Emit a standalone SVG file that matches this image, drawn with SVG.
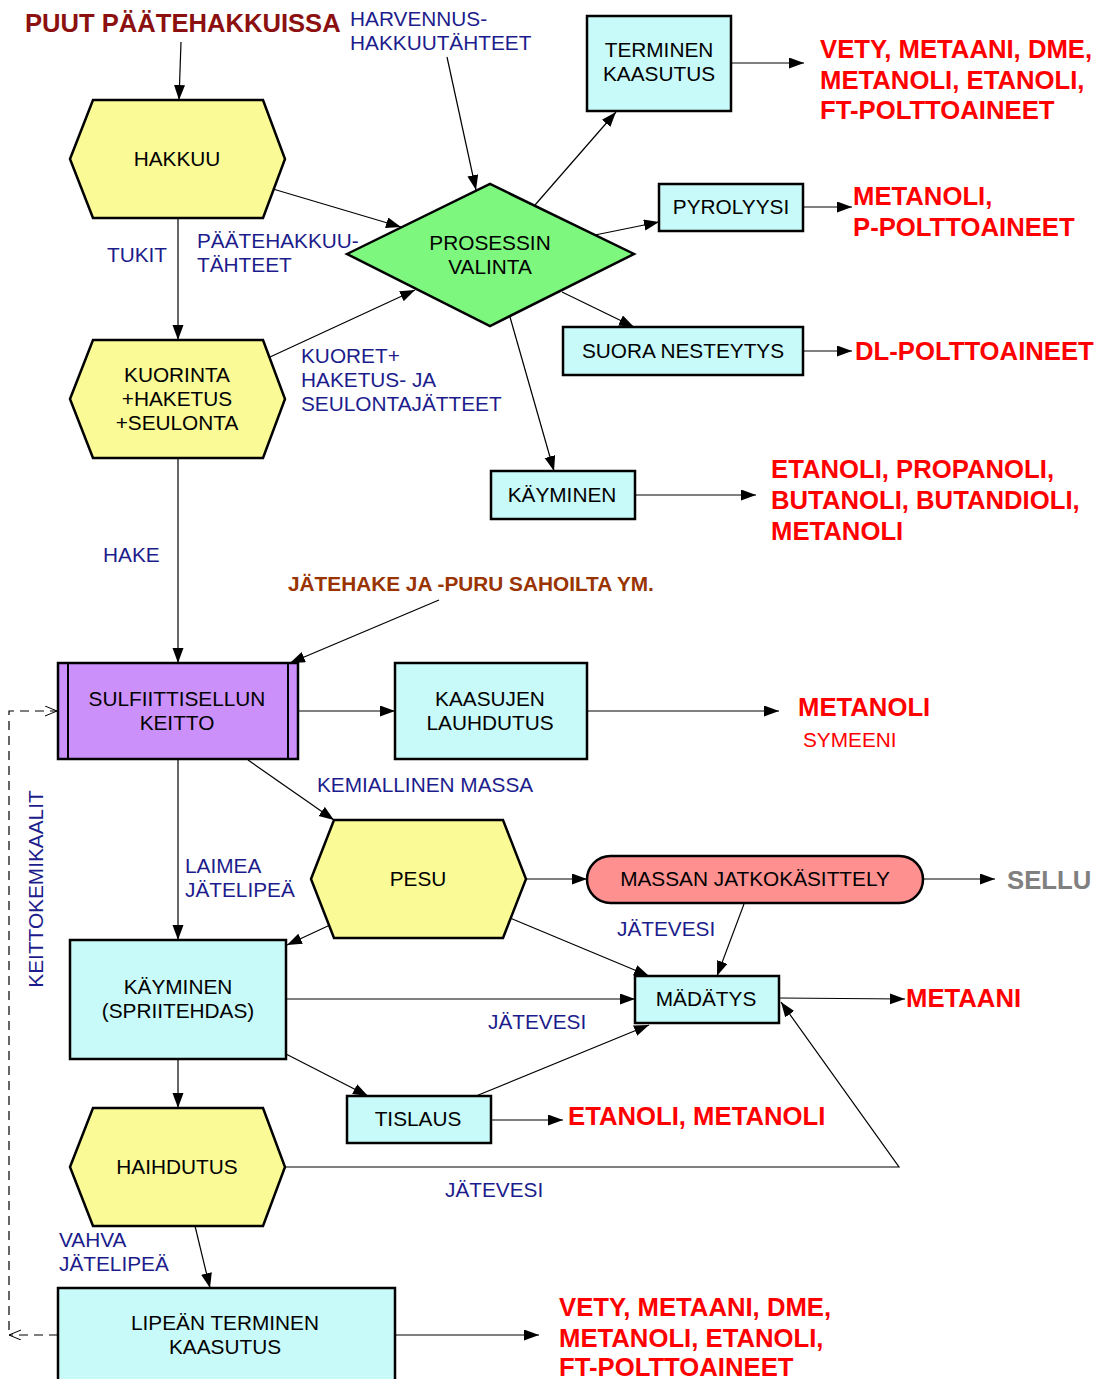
<svg xmlns="http://www.w3.org/2000/svg" width="1109" height="1379" viewBox="0 0 1109 1379">
  <style>
    .node { stroke: #000; stroke-width: 2.5; }
    .hex { fill: #fafa96; }
    .box { fill: #c8fafa; }
    .dia { fill: #7ef77e; }
    .cook { fill: #cc90fa; }
    .pill { fill: #ff9090; }
    .lbl { font-family: "Liberation Sans", Arial, sans-serif; font-size: 20.8px; fill: #000; text-anchor: middle; }
    .flow { font-family: "Liberation Sans", Arial, sans-serif; font-size: 20.8px; fill: #1c1c8c; }
    .prod { font-family: "Liberation Sans", Arial, sans-serif; font-size: 25.7px; font-weight: bold; fill: #ff0000; }
    .conn line, .conn polyline, .conn path { stroke: #000; stroke-width: 1.2; fill: none; }
    .conn .dash { stroke-dasharray: 9 6; }
  </style>
  <defs>
    <marker id="arr" markerUnits="userSpaceOnUse" markerWidth="16" markerHeight="12" refX="15" refY="5.5" orient="auto">
      <path d="M0,0 L15,5.5 L0,11 z" fill="#000"/>
    </marker>
    <marker id="open" markerUnits="userSpaceOnUse" markerWidth="14" markerHeight="12" refX="12" refY="5" orient="auto">
      <path d="M0,0 L12,5 L0,10" fill="none" stroke="#000" stroke-width="1"/>
    </marker>
  </defs>

  <!-- connectors -->
  <g id="connectors" class="conn">
    <line x1="181" y1="42" x2="179" y2="100" marker-end="url(#arr)"/>
    <line x1="273" y1="189" x2="401" y2="227" marker-end="url(#arr)"/>
    <line x1="447" y1="57" x2="476" y2="190" marker-end="url(#arr)"/>
    <line x1="178" y1="218" x2="178" y2="340" marker-end="url(#arr)"/>
    <line x1="270" y1="357" x2="415" y2="290" marker-end="url(#arr)"/>
    <line x1="535" y1="205" x2="616" y2="112" marker-end="url(#arr)"/>
    <line x1="595" y1="235" x2="659" y2="222" marker-end="url(#arr)"/>
    <line x1="562" y1="292" x2="634" y2="327" marker-end="url(#arr)"/>
    <line x1="510" y1="317" x2="554" y2="471" marker-end="url(#arr)"/>
    <line x1="731" y1="63" x2="804" y2="63" marker-end="url(#arr)"/>
    <line x1="803" y1="207" x2="852" y2="207" marker-end="url(#arr)"/>
    <line x1="803" y1="351" x2="852" y2="351" marker-end="url(#arr)"/>
    <line x1="635" y1="495" x2="756" y2="495" marker-end="url(#arr)"/>
    <line x1="178" y1="458" x2="178" y2="663" marker-end="url(#arr)"/>
    <line x1="439" y1="600" x2="290" y2="663" marker-end="url(#arr)"/>
    <line x1="298" y1="711" x2="395" y2="711" marker-end="url(#arr)"/>
    <line x1="587" y1="711" x2="779" y2="711" marker-end="url(#arr)"/>
    <line x1="248" y1="760" x2="334" y2="820" marker-end="url(#arr)"/>
    <line x1="178" y1="759" x2="178" y2="940" marker-end="url(#arr)"/>
    <line x1="330" y1="925" x2="287" y2="945" marker-end="url(#arr)"/>
    <line x1="526" y1="879" x2="587" y2="879" marker-end="url(#arr)"/>
    <line x1="923" y1="879" x2="995" y2="879" marker-end="url(#arr)"/>
    <line x1="510" y1="918" x2="649" y2="976" marker-end="url(#arr)"/>
    <line x1="744" y1="904" x2="717" y2="976" marker-end="url(#arr)"/>
    <line x1="286" y1="999" x2="635" y2="999" marker-end="url(#arr)"/>
    <line x1="779" y1="998" x2="905" y2="999" marker-end="url(#arr)"/>
    <line x1="286" y1="1054" x2="368" y2="1096" marker-end="url(#arr)"/>
    <line x1="476" y1="1096" x2="649" y2="1025" marker-end="url(#arr)"/>
    <line x1="491" y1="1120" x2="563" y2="1120" marker-end="url(#arr)"/>
    <polyline points="286,1167 899,1167 781,1002" marker-end="url(#arr)"/>
    <line x1="178" y1="1059" x2="178" y2="1108" marker-end="url(#arr)"/>
    <line x1="195" y1="1226" x2="210" y2="1288" marker-end="url(#arr)"/>
    <line x1="395" y1="1335" x2="539" y2="1335" marker-end="url(#arr)"/>
    <!-- cooking chemicals returned to the digester -->
    <line class="dash" x1="58" y1="1335" x2="9" y2="1335" marker-end="url(#open)"/>
    <path class="dash" d="M9,1330 V711 H57" marker-end="url(#open)"/>
  </g>

  <!-- nodes -->
  <g id="hakkuu">
    <polygon class="node hex" points="70,159 93,100 263,100 285,159 263,218 93,218"/>
    <text class="lbl" x="177" y="166">HAKKUU</text>
  </g>
  <g id="prosessin-valinta">
    <polygon class="node dia" points="347,254 490,184 634,254 490,326"/>
    <text class="lbl" x="490" y="250">PROSESSIN</text>
    <text class="lbl" x="490" y="274">VALINTA</text>
  </g>
  <g id="terminen-kaasutus">
    <rect class="node box" x="587" y="16" width="144" height="95"/>
    <text class="lbl" x="659" y="57">TERMINEN</text>
    <text class="lbl" x="659" y="81">KAASUTUS</text>
  </g>
  <g id="pyrolyysi">
    <rect class="node box" x="659" y="184" width="144" height="47"/>
    <text class="lbl" x="731" y="214">PYROLYYSI</text>
  </g>
  <g id="suora-nesteytys">
    <rect class="node box" x="563" y="327" width="240" height="48"/>
    <text class="lbl" x="683" y="358">SUORA NESTEYTYS</text>
  </g>
  <g id="kayminen">
    <rect class="node box" x="491" y="471" width="144" height="48"/>
    <text class="lbl" x="562" y="502">KÄYMINEN</text>
  </g>
  <g id="kuorinta">
    <polygon class="node hex" points="70,399 93,340 263,340 285,399 263,458 93,458"/>
    <text class="lbl" x="177" y="382">KUORINTA</text>
    <text class="lbl" x="177" y="406">+HAKETUS</text>
    <text class="lbl" x="177" y="430">+SEULONTA</text>
  </g>
  <g id="sulfiittisellun-keitto">
    <rect class="node cook" x="58" y="663" width="240" height="96"/>
    <line x1="68" y1="663" x2="68" y2="759" stroke="#000" stroke-width="2"/>
    <line x1="288" y1="663" x2="288" y2="759" stroke="#000" stroke-width="2"/>
    <text class="lbl" x="177" y="706">SULFIITTISELLUN</text>
    <text class="lbl" x="177" y="730">KEITTO</text>
  </g>
  <g id="kaasujen-lauhdutus">
    <rect class="node box" x="395" y="663" width="192" height="96"/>
    <text class="lbl" x="490" y="706">KAASUJEN</text>
    <text class="lbl" x="490" y="730">LAUHDUTUS</text>
  </g>
  <g id="pesu">
    <polygon class="node hex" points="311,879 334,820 503,820 526,879 503,938 334,938"/>
    <text class="lbl" x="418" y="886">PESU</text>
  </g>
  <g id="massan-jatkokasittely">
    <rect class="node pill" x="587" y="856" width="336" height="47" rx="23.5" ry="23.5"/>
    <text class="lbl" x="755" y="886">MASSAN JATKOKÄSITTELY</text>
  </g>
  <g id="kayminen-spriitehdas">
    <rect class="node box" x="70" y="940" width="216" height="119"/>
    <text class="lbl" x="178" y="994">KÄYMINEN</text>
    <text class="lbl" x="178" y="1018">(SPRIITEHDAS)</text>
  </g>
  <g id="madatys">
    <rect class="node box" x="635" y="976" width="144" height="47"/>
    <text class="lbl" x="706" y="1006">MÄDÄTYS</text>
  </g>
  <g id="tislaus">
    <rect class="node box" x="347" y="1096" width="144" height="47"/>
    <text class="lbl" x="418" y="1126">TISLAUS</text>
  </g>
  <g id="haihdutus">
    <polygon class="node hex" points="70,1167 93,1108 263,1108 285,1167 263,1226 93,1226"/>
    <text class="lbl" x="177" y="1174">HAIHDUTUS</text>
  </g>
  <g id="lipean-terminen-kaasutus">
    <rect class="node box" x="58" y="1288" width="337" height="100"/>
    <text class="lbl" x="225" y="1330">LIPEÄN TERMINEN</text>
    <text class="lbl" x="225" y="1354">KAASUTUS</text>
  </g>

  <!-- raw material labels -->
  <g id="inputs">
    <text x="25" y="32" font-family="Liberation Sans, Arial, sans-serif" font-size="25.6" font-weight="bold" fill="#8c1010">PUUT PÄÄTEHAKKUISSA</text>
    <text x="288" y="591" font-family="Liberation Sans, Arial, sans-serif" font-size="20.8" font-weight="bold" fill="#993300">JÄTEHAKE JA -PURU SAHOILTA YM.</text>
  </g>

  <!-- flow labels -->
  <g id="flow-labels">
    <text class="flow" x="350" y="26">HARVENNUS-</text>
    <text class="flow" x="350" y="50">HAKKUUTÄHTEET</text>
    <text class="flow" x="107" y="262">TUKIT</text>
    <text class="flow" x="197" y="248">PÄÄTEHAKKUU-</text>
    <text class="flow" x="197" y="272">TÄHTEET</text>
    <text class="flow" x="301" y="363">KUORET+</text>
    <text class="flow" x="301" y="387">HAKETUS- JA</text>
    <text class="flow" x="301" y="411">SEULONTAJÄTTEET</text>
    <text class="flow" x="103" y="562">HAKE</text>
    <text class="flow" x="317" y="792">KEMIALLINEN MASSA</text>
    <text class="flow" x="185" y="873">LAIMEA</text>
    <text class="flow" x="185" y="897">JÄTELIPEÄ</text>
    <text class="flow" transform="translate(43,889) rotate(-90)" text-anchor="middle">KEITTOKEMIKAALIT</text>
    <text class="flow" x="617" y="936">JÄTEVESI</text>
    <text class="flow" x="488" y="1029">JÄTEVESI</text>
    <text class="flow" x="445" y="1197">JÄTEVESI</text>
    <text class="flow" x="59" y="1247">VAHVA</text>
    <text class="flow" x="59" y="1271">JÄTELIPEÄ</text>
  </g>

  <!-- products -->
  <g id="products">
    <text class="prod" x="820" y="58">VETY, METAANI, DME,</text>
    <text class="prod" x="820" y="89">METANOLI, ETANOLI,</text>
    <text class="prod" x="820" y="119">FT-POLTTOAINEET</text>
    <text class="prod" x="853" y="205">METANOLI,</text>
    <text class="prod" x="853" y="236">P-POLTTOAINEET</text>
    <text class="prod" x="855" y="360">DL-POLTTOAINEET</text>
    <text class="prod" x="771" y="478">ETANOLI, PROPANOLI,</text>
    <text class="prod" x="771" y="509">BUTANOLI, BUTANDIOLI,</text>
    <text class="prod" x="771" y="540">METANOLI</text>
    <text class="prod" x="798" y="716">METANOLI</text>
    <text x="803" y="747" font-family="Liberation Sans, Arial, sans-serif" font-size="20.8" fill="#ff0000">SYMEENI</text>
    <text class="prod" x="1007" y="889" style="fill:#808080">SELLU</text>
    <text class="prod" x="906" y="1007">METAANI</text>
    <text class="prod" x="568" y="1125">ETANOLI, METANOLI</text>
    <text class="prod" x="559" y="1316">VETY, METAANI, DME,</text>
    <text class="prod" x="559" y="1347">METANOLI, ETANOLI,</text>
    <text class="prod" x="559" y="1376">FT-POLTTOAINEET</text>
  </g>
</svg>
